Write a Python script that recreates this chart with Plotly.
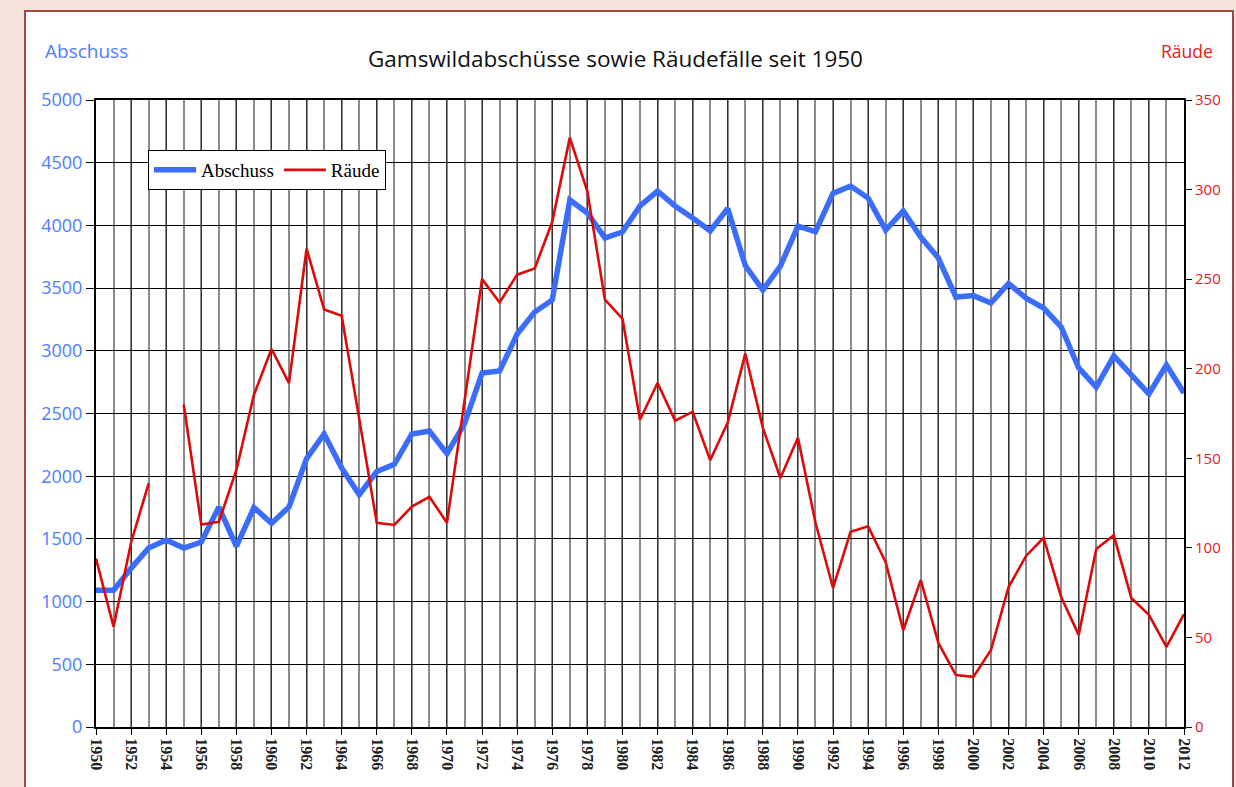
import plotly.graph_objects as go

years = list(range(1950, 2013))

abschuss = [1090, 1090, 1265, 1427, 1491, 1427, 1475, 1754, 1440, 1750, 1625, 1754,
            2140, 2337, 2065, 1852, 2037, 2095, 2337, 2360, 2180, 2420,
            2823, 2839, 3134, 3309, 3405, 4203, 4099, 3900, 3947, 4155,
            4274, 4155, 4059, 3955, 4135, 3680, 3485, 3676, 3995, 3950,
            4255, 4314, 4218, 3963, 4115, 3907, 3740, 3429, 3440, 3381,
            3537, 3420, 3341, 3190, 2863, 2711, 2959, 2807, 2656, 2887, 2663]

raeude = [94, 56, 103, 136, None, 180, 113, 114.5, 143.5, 185.5, 211, 192,
          267, 233, 229.6, 172, 114, 112.8, 123, 128.5, 114, 182,
          250, 237, 252.5, 256, 282, 329, 299, 238.5, 228, 171.5,
          192, 171, 176, 149, 170, 208.4, 167, 139, 161.5, 114,
          77.6, 109, 112, 92, 54, 82, 47, 29, 28, 43,
          78, 95.5, 105.6, 72.6, 51.4, 99.4, 107, 72, 62.6, 44.7, 63]

left_ticks = list(range(0, 5001, 500))
right_ticks = list(range(0, 351, 50))
x_ticks = list(range(1950, 2013, 2))

BLUE = "#3a6dfb"
BLUE_TXT = "#4d7cff"
RED = "#dd0a0a"
RED_TXT = "#e3201b"
PINK = "#f4e4dc"

# plot area in page pixels
PX0, PX1, PY0, PY1 = 96, 1184, 100, 727


def fx(px):
    return (px - PX0) / (PX1 - PX0)


def fy(py):
    return (PY1 - py) / (PY1 - PY0)


fig = go.Figure()
fig.add_trace(go.Scatter(x=years, y=abschuss, name="Abschuss", mode="lines",
                         line=dict(color=BLUE, width=5.5), yaxis="y"))
fig.add_trace(go.Scatter(x=years, y=raeude, name="Räude", mode="lines",
                         line=dict(color=RED, width=2.6), yaxis="y2",
                         connectgaps=False))

fig.update_layout(
    width=1236, height=787,
    paper_bgcolor=PINK,
    plot_bgcolor="white",
    margin=dict(l=PX0, r=1236 - PX1, t=PY0, b=787 - PY1),
    showlegend=True,
    legend=dict(x=fx(148), y=fy(150), xanchor="left", yanchor="top",
                orientation="h", bgcolor="white", bordercolor="black",
                borderwidth=1,
                font=dict(family="Liberation Serif", size=19, color="black"),
                itemwidth=42, tracegroupgap=0),
    xaxis=dict(range=[1950, 2012], tickmode="array", tickvals=x_ticks,
               ticktext=[str(v) for v in x_ticks], tickangle=90,
               tickfont=dict(family="Liberation Serif", size=16, color="#222", weight="bold"),
               showgrid=True, gridcolor="#333", gridwidth=1,
               minor=dict(dtick=1, tick0=1950, showgrid=True, gridcolor="#8a8a8a", gridwidth=2),
               showline=True, linecolor="black", linewidth=2, mirror=True,
               ticks="outside", ticklen=6, tickcolor="black", zeroline=False),
    yaxis=dict(range=[0, 5000], tickmode="array", tickvals=left_ticks,
               tickfont=dict(family="Open Sans", size=18, color=BLUE_TXT),
               showgrid=True, gridcolor="black", gridwidth=1,
               showline=True, linecolor="black", linewidth=2,
               ticks="outside", ticklen=8, tickcolor="black", zeroline=False),
    yaxis2=dict(range=[0, 350], tickmode="array", tickvals=right_ticks,
                overlaying="y", side="right",
                tickfont=dict(family="Open Sans", size=15, color=RED_TXT),
                showgrid=False, showline=True, linecolor="black", linewidth=2,
                ticks="outside", ticklen=6, tickcolor="black", zeroline=False),
    shapes=[dict(type="rect", xref="paper", yref="paper",
                 x0=fx(25), x1=fx(1233), y0=fy(800), y1=fy(11),
                 fillcolor="white", line=dict(color="#a84444", width=2),
                 layer="below")],
    annotations=[
        dict(text="Gamswildabschüsse sowie Räudefälle seit 1950",
             xref="paper", yref="paper", x=fx(615), y=fy(58),
             xanchor="center", yanchor="middle", showarrow=False,
             font=dict(family="Open Sans", size=22.5, color="#111")),
        dict(text="Abschuss", xref="paper", yref="paper",
             x=fx(43), y=fy(51),
             xanchor="left", yanchor="middle", showarrow=False,
             font=dict(family="Open Sans", size=19, color=BLUE_TXT)),
        dict(text="Räude", xref="paper", yref="paper",
             x=fx(1215), y=fy(51),
             xanchor="right", yanchor="middle", showarrow=False,
             font=dict(family="Open Sans", size=17.5, color=RED_TXT)),
    ],
)

fig.write_html("out.html",
               config={"displayModeBar": False},
               post_script="document.body.style.margin='0';"
                           "document.body.style.background='" + PINK + "';")
